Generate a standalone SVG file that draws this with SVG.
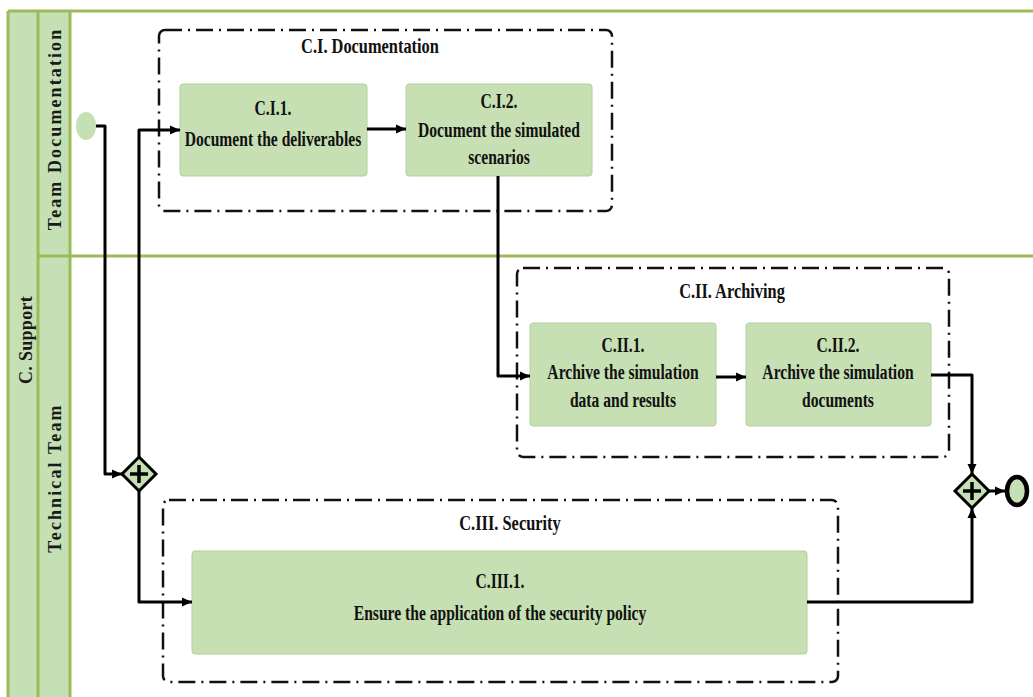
<svg xmlns="http://www.w3.org/2000/svg" width="1033" height="697" viewBox="0 0 1033 697">
<style>
.lanebg{fill:#c5e0b4;stroke:none}
.laneline{stroke:#9bbb59;stroke-width:3;fill:none}
.lanetxt{font-family:"Liberation Serif",serif;font-weight:bold;font-size:18px;fill:#1a1a1a;letter-spacing:2.1px}
.grp{fill:none;stroke:#111;stroke-width:2.5;stroke-dasharray:17 6 2 6}
.grplbl{font-family:"Liberation Serif",serif;font-weight:bold;font-size:21px;fill:#111;text-anchor:middle}
.task{fill:#c6dfb3;stroke:#b3d09a;stroke-width:1}
.tt{font-family:"Liberation Serif",serif;font-weight:bold;font-size:20px;fill:#111;text-anchor:middle}
.conn{fill:none;stroke:#000;stroke-width:3;stroke-linejoin:round}
.gw{fill:#c5e0b4;stroke:#000;stroke-width:3}
.plus{stroke:#000;stroke-width:3.5}
</style>
<defs>
<marker id="ah" markerWidth="11" markerHeight="11" refX="10" refY="5.5" orient="auto" markerUnits="userSpaceOnUse">
<path d="M0,1 L10,5.5 L0,10 Z" fill="#000"/>
</marker>
</defs>
<rect width="1033" height="697" fill="#fff"/>
<g id="pool">
<rect class="lanebg" x="8" y="11" width="62" height="686"/>
<line class="laneline" x1="8" y1="11" x2="1033" y2="11"/>
<line class="laneline" x1="8" y1="11" x2="8" y2="697"/>
<line class="laneline" x1="38" y1="11" x2="38" y2="697"/>
<line class="laneline" x1="70" y1="11" x2="70" y2="697"/>
<line class="laneline" x1="38" y1="256" x2="1033" y2="256"/>
<text transform="translate(32,340) rotate(-90)" class="lanetxt" text-anchor="middle" style="letter-spacing:0.3px">C. Support</text>
</g>
<g id="lane-team-documentation">
<text transform="translate(61,129) rotate(-90)" class="lanetxt" text-anchor="middle">Team Documentation</text>
</g>
<g id="lane-technical-team">
<text transform="translate(61,478) rotate(-90)" class="lanetxt" text-anchor="middle">Technical Team</text>
</g>
<g id="group-CI">
<rect class="grp" x="159" y="30" width="453" height="181" rx="6"/>
<text class="grplbl" transform="translate(370,53) scale(0.78,1)">C.I. Documentation</text>
</g>
<g id="group-CII">
<rect class="grp" x="517" y="268" width="432" height="189" rx="6"/>
<text class="grplbl" transform="translate(732,298) scale(0.78,1)">C.II. Archiving</text>
</g>
<g id="group-CIII">
<rect class="grp" x="163" y="500" width="675" height="182" rx="6"/>
<text class="grplbl" transform="translate(510,530) scale(0.78,1)">C.III. Security</text>
</g>
<g id="start">
<ellipse cx="86" cy="126" rx="10" ry="14" fill="#c5e0b4"/>
</g>
<g id="gateway-split">
<path class="gw" d="M139,457 L156,474 L139,491 L122,474 Z"/>
<path class="plus" d="M139,465 V483 M130,474 H148"/>
</g>
<g id="task-CI1">
<rect class="task" x="180" y="84" width="187" height="92" rx="3"/>
<text class="tt" transform="translate(273,115) scale(0.78,1)">C.I.1.</text>
<text class="tt" transform="translate(273,146) scale(0.78,1)">Document the deliverables</text>
</g>
<g id="task-CI2">
<rect class="task" x="406" y="84" width="186" height="92" rx="3"/>
<text class="tt" transform="translate(499,108) scale(0.78,1)">C.I.2.</text>
<text class="tt" transform="translate(499,137) scale(0.78,1)">Document the simulated</text>
<text class="tt" transform="translate(499,164) scale(0.78,1)">scenarios</text>
</g>
<g id="task-CII1">
<rect class="task" x="530" y="323" width="186" height="103" rx="3"/>
<text class="tt" transform="translate(623,352) scale(0.78,1)">C.II.1.</text>
<text class="tt" transform="translate(623,379) scale(0.78,1)">Archive the simulation</text>
<text class="tt" transform="translate(623,407) scale(0.78,1)">data and results</text>
</g>
<g id="task-CII2">
<rect class="task" x="746" y="323" width="185" height="103" rx="3"/>
<text class="tt" transform="translate(838,352) scale(0.78,1)">C.II.2.</text>
<text class="tt" transform="translate(838,379) scale(0.78,1)">Archive the simulation</text>
<text class="tt" transform="translate(838,407) scale(0.78,1)">documents</text>
</g>
<g id="task-CIII1">
<rect class="task" x="192" y="551" width="615" height="103" rx="3"/>
<text class="tt" transform="translate(500,588) scale(0.78,1)">C.III.1.</text>
<text class="tt" transform="translate(500,620) scale(0.78,1)">Ensure the application of the security policy</text>
</g>
<g id="gateway-join">
<path class="gw" d="M972,474 L989,491 L972,508 L955,491 Z"/>
<path class="plus" d="M972,482 V500 M963,491 H981"/>
</g>
<g id="end">
<ellipse cx="1017" cy="491" rx="10" ry="14" fill="#c5e0b4" stroke="#000" stroke-width="4.5"/>
</g>
<g id="connectors">
<path class="conn" d="M96,126 H105 V474 H122" marker-end="url(#ah)"/>
<path class="conn" d="M139,457 V130 H180" marker-end="url(#ah)"/>
<path class="conn" d="M139,491 V602 H192" marker-end="url(#ah)"/>
<path class="conn" d="M367,129 H406" marker-end="url(#ah)"/>
<path class="conn" d="M498,176 V376 H530" marker-end="url(#ah)"/>
<path class="conn" d="M716,377 H746" marker-end="url(#ah)"/>
<path class="conn" d="M931,375 H972 V474" marker-end="url(#ah)"/>
<path class="conn" d="M807,602 H972 V508" marker-end="url(#ah)"/>
<path class="conn" d="M989,491 H1005" marker-end="url(#ah)"/>
</g>
</svg>
